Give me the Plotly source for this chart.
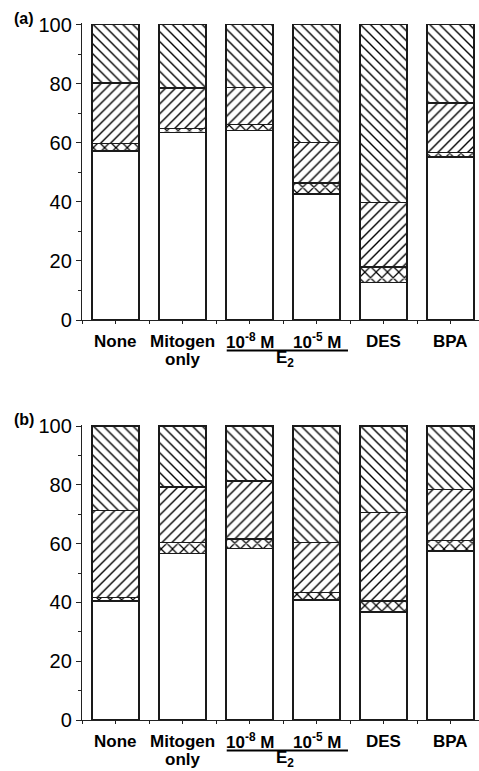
import plotly.graph_objects as go

# ---------------- data ----------------
categories = ["None", "Mitogen only", "10-8 M E2", "10-5 M E2", "DES", "BPA"]
label_row1 = ["None", "Mitogen", "10<sup>-8</sup> M", "10<sup>-5</sup> M", "DES", "BPA"]
label_row2 = ["", "only", "", "", "", ""]
group_label = "E<sub>2</sub>"
panel_labels = ["(a)", "(b)"]

# panel (a) segment percentages (bottom -> top)
a_white = [57.2, 63.4, 64.1, 42.7, 12.6, 55.2]
a_cross = [2.5, 1.5, 2.1, 3.7, 5.4, 1.5]
a_fwd = [20.6, 13.7, 12.5, 13.8, 21.7, 16.8]
a_back = [19.7, 21.4, 21.3, 39.8, 60.3, 26.5]

# panel (b) segment percentages (bottom -> top)
b_white = [40.5, 56.6, 58.3, 40.8, 36.7, 57.5]
b_cross = [1.1, 3.7, 3.2, 2.5, 3.8, 3.6]
b_fwd = [29.6, 19.0, 19.8, 17.1, 30.0, 17.4]
b_back = [28.8, 20.7, 18.7, 39.6, 29.5, 21.5]

y_ticks = [0, 20, 40, 60, 80, 100]

# ---------------- layout helpers ----------------
W, H = 479, 771
x_pos = list(range(len(categories)))
YMAX = 100.5

def px_to_paper(py):
    return 1 - py / H

panels = [
    dict(zero=320.0, hundred=24.7, segs=(a_white, a_cross, a_fwd, a_back)),
    dict(zero=720.0, hundred=426.0, segs=(b_white, b_cross, b_fwd, b_back)),
]

fig = go.Figure()

seg_styles = [
    dict(shape="", size=8, solidity=0.2),
    dict(shape="x", size=8, solidity=0.28),
    dict(shape="/", size=7, solidity=0.2),
    dict(shape="\\", size=7, solidity=0.2),
]

for i, p in enumerate(panels):
    xa = "x" if i == 0 else "x2"
    ya = "y" if i == 0 else "y2"
    for seg, st in zip(p["segs"], seg_styles):
        pattern = dict(shape=st["shape"], size=st["size"], solidity=st["solidity"],
                       fgcolor="black", bgcolor="white", fillmode="replace")
        fig.add_trace(go.Bar(
            x=x_pos, y=seg, width=0.7, xaxis=xa, yaxis=ya,
            marker=dict(color="white", line=dict(color="#1a1a1a", width=1.4),
                        pattern=pattern),
            showlegend=False, hoverinfo="skip",
        ))

ax_common = dict(showline=True, linecolor="#222222", linewidth=1.4,
                 showgrid=False, zeroline=False, mirror=False, automargin=False)

x_range = [-0.5, -0.5 + (W - 82) / 67.0]
label_font = dict(family="Liberation Sans, Arial", size=17, color="black", weight="bold")
for i, p in enumerate(panels):
    scale = (p["zero"] - p["hundred"]) / 100.0
    top_px = p["zero"] - YMAX * scale
    dom = [px_to_paper(p["zero"]), px_to_paper(top_px)]
    xkey = "xaxis" if i == 0 else "xaxis2"
    ykey = "yaxis" if i == 0 else "yaxis2"
    fig.layout[xkey] = dict(ax_common, domain=[82 / W, 1.0], range=x_range,
                            anchor="y" if i == 0 else "y2",
                            tickmode="linear", tick0=0, dtick=0.5,
                            ticks="outside", ticklen=3, tickwidth=1,
                            tickcolor="#222222", showticklabels=False)
    fig.layout[ykey] = dict(ax_common, domain=dom, range=[0, YMAX],
                            anchor="x" if i == 0 else "x2",
                            tickvals=y_ticks, ticks="outside", ticklen=5,
                            tickwidth=1.2, tickcolor="#222222",
                            minor=dict(tickvals=[10, 30, 50, 70, 90],
                                       ticks="outside", ticklen=3,
                                       tickcolor="#222222"),
                            tickfont=dict(family="Liberation Sans, Arial",
                                          size=20, color="black"))

    z = p["zero"]
    for xi, lab in zip(x_pos, label_row1):
        fig.add_annotation(x=xi, y=px_to_paper(z + 21), xref=xa, yref="paper",
                           text=lab, showarrow=False, xanchor="center",
                           yanchor="middle", font=label_font)
    for xi, lab in zip(x_pos, label_row2):
        if lab:
            fig.add_annotation(x=xi, y=px_to_paper(z + 39.5), xref=xa, yref="paper",
                               text=lab, showarrow=False, xanchor="center",
                               yanchor="middle", font=label_font)
    fig.add_shape(type="line", xref=xa, yref="paper",
                  x0=x_pos[2] - 0.34, x1=x_pos[3] + 0.47,
                  y0=px_to_paper(z + 30.5), y1=px_to_paper(z + 30.5),
                  line=dict(color="black", width=2))
    fig.add_annotation(x=(x_pos[2] + x_pos[3]) / 2 + 0.03, y=px_to_paper(z + 38.5),
                       xref=xa, yref="paper", text=group_label, showarrow=False,
                       xanchor="center", yanchor="middle", font=label_font)
    fig.add_annotation(x=12 / W, y=px_to_paper(p["hundred"] - 6), xref="paper",
                       yref="paper", text=panel_labels[i], showarrow=False,
                       xanchor="left", yanchor="middle",
                       font=dict(family="Liberation Sans, Arial", size=16,
                                 color="black", weight="bold"))

fig.update_layout(width=W, height=H, margin=dict(l=0, r=0, t=0, b=0),
                  barmode="stack", bargap=0.3, plot_bgcolor="white",
                  paper_bgcolor="white", showlegend=False)

fig.write_html("out.html",
               config={"displayModeBar": False},
               post_script="document.body.style.margin='0';"
                           "document.documentElement.style.overflow='hidden';")
